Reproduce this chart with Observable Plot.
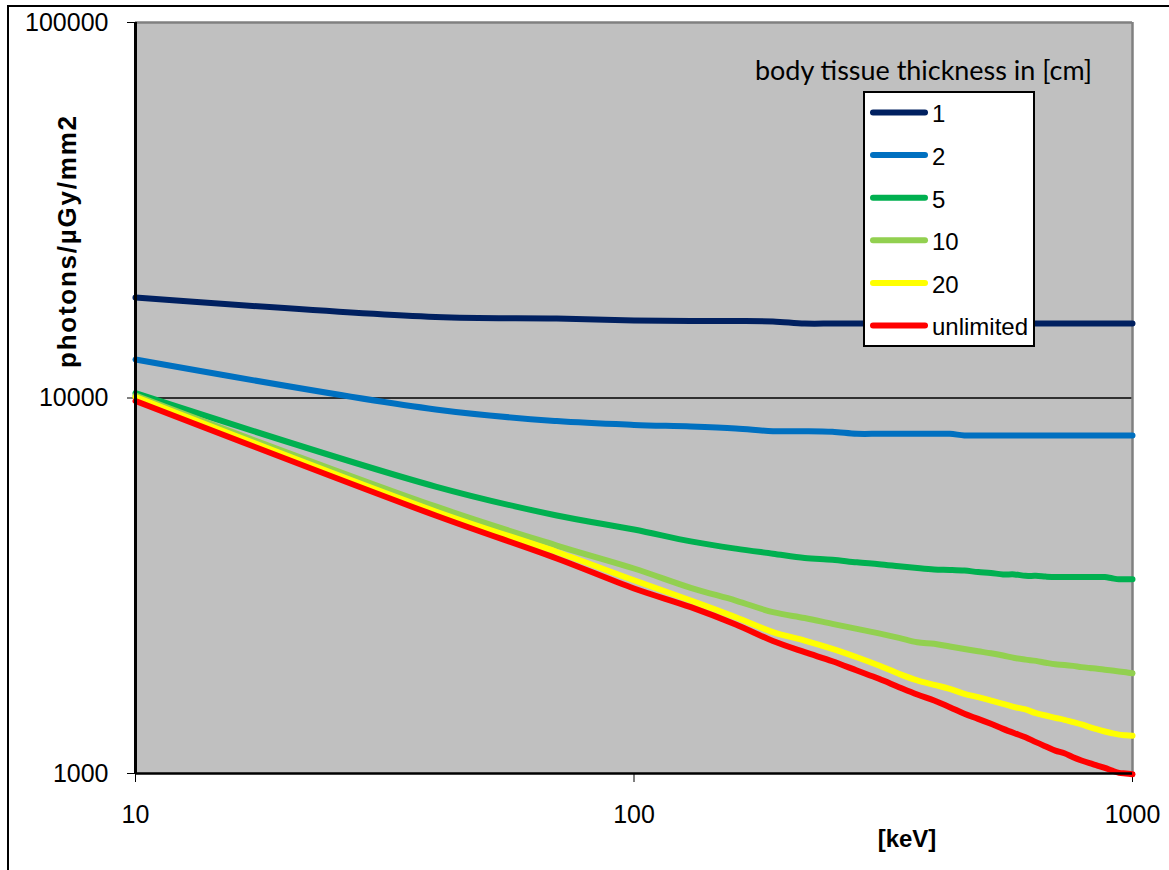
<!DOCTYPE html>
<html>
<head>
<meta charset="utf-8">
<script src="https://cdn.jsdelivr.net/npm/d3@7"></script>
<script src="https://cdn.jsdelivr.net/npm/@observablehq/plot@0.6"></script>
<style>
  html, body { margin: 0; padding: 0; background: white; }
</style>
</head>
<body>
<div id="chart"></div>
<script>
// ---- data ----
const energies = [10, 40, 70, 100, 130, 160, 190, 220, 250, 280, 310, 340, 370, 400, 430, 460, 490, 520, 550, 580, 610, 640, 670, 700, 730, 760, 790, 820, 850, 880, 910, 940, 970, 1000];
const seriesNames = ["1", "2", "5", "10", "20", "unlimited"];
const seriesColors = ["#002060", "#0070C0", "#00B050", "#92D050", "#FFFF00", "#FF0000"];
const thick1 = [18520, 16430, 16280, 16080, 16030, 16030, 15990, 15790, 15790, 15790, 15790, 15790, 15790, 15790, 15790, 15790, 15790, 15790, 15790, 15790, 15790, 15790, 15790, 15790, 15790, 15790, 15790, 15790, 15790, 15790, 15790, 15790, 15790, 15790];
const thick2 = [12660, 9320, 8680, 8480, 8400, 8300, 8160, 8160, 8130, 8030, 8030, 8030, 8030, 8030, 8030, 7950, 7950, 7950, 7950, 7950, 7950, 7950, 7950, 7950, 7950, 7950, 7950, 7950, 7950, 7950, 7950, 7950, 7950, 7950];
const thick5 = [10300, 5810, 4865, 4465, 4150, 3970, 3850, 3750, 3710, 3650, 3610, 3565, 3525, 3495, 3485, 3470, 3440, 3420, 3390, 3390, 3360, 3360, 3345, 3335, 3335, 3335, 3335, 3335, 3335, 3335, 3310, 3290, 3290, 3290];
const thick10 = [10150, 5143, 4047, 3515, 3122, 2888, 2689, 2595, 2504, 2428, 2361, 2298, 2237, 2215, 2178, 2146, 2116, 2090, 2061, 2030, 2010, 1995, 1972, 1953, 1946, 1935, 1920, 1910, 1902, 1890, 1880, 1870, 1860, 1849];
const thick20 = [10060, 4985, 3890, 3270, 2888, 2608, 2380, 2260, 2148, 2040, 1939, 1843, 1769, 1722, 1681, 1630, 1597, 1564, 1533, 1502, 1481, 1447, 1427, 1407, 1390, 1370, 1351, 1329, 1310, 1294, 1280, 1269, 1264, 1260];
const thickUnlimited = [9818, 4865, 3738, 3110, 2773, 2493, 2253, 2104, 1990, 1880, 1787, 1698, 1623, 1564, 1502, 1442, 1398, 1356, 1315, 1280, 1249, 1212, 1180, 1151, 1132, 1105, 1083, 1065, 1050, 1035, 1018, 1004, 1000, 995];
const xTicks = [10, 100, 1000];
const yTicks = [1000, 10000, 100000];
const gridValues = [10000];
const xLabel = "[keV]";
const yLabel = "photons/µGy/mm2";
const legendTitle = "body tissue thickness in [cm]";

// ---- build table ----
const seriesValues = [thick1, thick2, thick5, thick10, thick20, thickUnlimited];
const rows = [];
seriesNames.forEach((name, i) => {
  energies.forEach((e, j) => rows.push({series: name, keV: e, value: seriesValues[i][j]}));
});

const W = 1169, H = 870;
const mL = 135, mR = 37, mT = 22, mB = 97;

const chart = Plot.plot({
  width: W,
  height: H,
  marginLeft: mL,
  marginRight: mR,
  marginTop: mT,
  marginBottom: mB,
  style: {
    fontFamily: "'Liberation Sans', Arial, sans-serif",
    fontSize: "25px",
    color: "black",
    background: "white",
    overflow: "visible"
  },
  x: {type: "log", domain: [10, 1000], ticks: xTicks, tickFormat: d => String(d), tickSize: 9, tickPadding: 23, label: null},
  y: {type: "log", domain: [1000, 100000], ticks: yTicks, tickFormat: d => String(d), tickSize: 8, tickPadding: 19, label: null},
  color: {domain: seriesNames, range: seriesColors},
  marks: [
    Plot.frame({fill: "#C0C0C0", stroke: "none"}),
    Plot.ruleY(gridValues, {stroke: "black", strokeWidth: 1.6}),
    Plot.ruleY([100000], {stroke: "#808080", strokeWidth: 2.5}),
    Plot.ruleX([1000], {stroke: "#808080", strokeWidth: 2.5}),
    Plot.line(rows, {x: "keV", y: "value", z: "series", stroke: "series", strokeWidth: 6, curve: "catmull-rom", strokeLinecap: "round", strokeLinejoin: "round"}),
    Plot.ruleX([10], {stroke: "black", strokeWidth: 3}),
    Plot.ruleY([1000], {stroke: "black", strokeWidth: 2.5}),
    Plot.text([xLabel], {frameAnchor: "bottom", text: d => d, dx: 273, dy: 66, lineAnchor: "middle", fontWeight: "bold", fontSize: 24, fill: "black"})
  ]
});

document.getElementById("chart").appendChild(chart);

// ---- in-plot legend, y label and outer border ----
const svg = d3.select(chart);
svg.append("rect")
  .attr("x", 8).attr("y", 6).attr("width", 1400).attr("height", 1200)
  .attr("fill", "none").attr("stroke", "black").attr("stroke-width", 2);

svg.append("text")
  .attr("transform", "translate(76,368) rotate(-90)")
  .attr("text-anchor", "start")
  .attr("font-family", "'Liberation Sans', Arial, sans-serif")
  .attr("font-weight", "bold")
  .attr("font-size", 26)
  .attr("textLength", 252)
  .attr("lengthAdjust", "spacing")
  .attr("fill", "black")
  .text(yLabel);

const lg = svg.append("g").attr("text-anchor", "start");
lg.append("text")
  .attr("x", 755).attr("y", 80)
  .attr("text-anchor", "start")
  .attr("font-family", "Lato, 'Open Sans', sans-serif")
  .attr("font-size", 26)
  .attr("textLength", 337)
  .attr("lengthAdjust", "spacingAndGlyphs")
  .attr("fill", "black")
  .text(legendTitle);
lg.append("rect")
  .attr("x", 864).attr("y", 92).attr("width", 170).attr("height", 254)
  .attr("fill", "white").attr("stroke", "black").attr("stroke-width", 2);
seriesNames.forEach((name, i) => {
  const y = 112.5 + i * 42.6;
  lg.append("line")
    .attr("x1", 873).attr("x2", 925).attr("y1", y).attr("y2", y)
    .attr("stroke", seriesColors[i]).attr("stroke-width", 6).attr("stroke-linecap", "round");
  lg.append("text")
    .attr("x", 932).attr("y", y + 1.5)
    .attr("dy", "0.35em")
    .attr("text-anchor", "start")
    .attr("font-family", "'Liberation Sans', Arial, sans-serif")
    .attr("font-size", 24)
    .attr("fill", "black")
    .text(name);
});
</script>
</body>
</html>
